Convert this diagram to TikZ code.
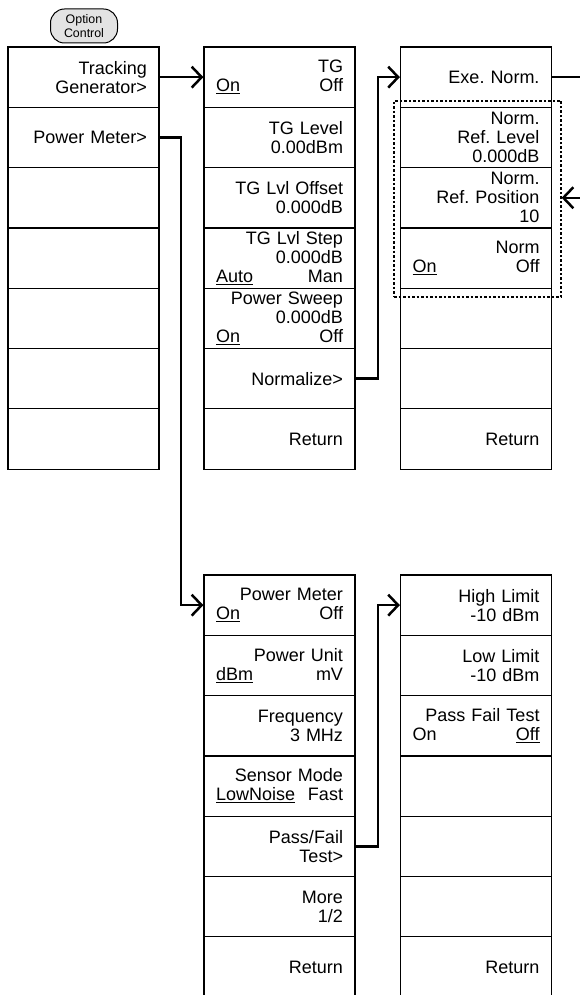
\documentclass[tikz,border=0pt]{standalone}
\usepackage{fontspec}
\usetikzlibrary{arrows.meta}
\newfontfamily\cellfont{Liberation Sans}
\newcommand{\sw}[2]{\makebox[127pt]{#1\hfill #2}}
\frenchspacing
\tikzset{
  cell/.style={draw, line width=1.2pt, minimum width=151pt, minimum height=60.3pt,
    inner sep=0pt, text width=127pt, align=right, font=\cellfont\fontsize{18}{19}\selectfont},
  optbtn/.style={draw, line width=1pt, fill=gray!22, rounded corners=14pt, minimum width=67pt,
    minimum height=34pt, inner sep=0pt, align=center, font=\cellfont\fontsize{12.4}{13.7}\selectfont},
  link/.style={line width=2.5pt, -{Straight Barb[length=10pt,width=21pt]}},
  grp/.style={draw, line width=1.2pt, dash pattern=on 2.5pt off 2pt, minimum width=167pt, minimum height=196pt}
}
\begin{document}
\begin{tikzpicture}[x=1pt, y=-1pt]

\useasboundingbox (0,0) rectangle (580,995);
\clip (0,0) rectangle (580,995);

\node[optbtn] (opt) at (84, 26) {Option\\Control};

\node[cell] (trk) at (83.5, 77.15) {Tracking\\Generator>};
\node[cell] (pm) at (83.5, 137.45) {Power Meter>};
\node[cell] (c1e2) at (83.5, 197.75) {};
\node[cell] (c1e3) at (83.5, 258.05) {};
\node[cell] (c1e4) at (83.5, 318.35) {};
\node[cell] (c1e5) at (83.5, 378.65) {};
\node[cell] (c1e6) at (83.5, 438.95) {};

\node[cell] (tg) at (279.5, 77.15) {TG\\\sw{\underline{On}}{Off}};
\node[cell] (tglev) at (279.5, 137.45) {TG Level\\0.00dBm};
\node[cell] (tgoff) at (279.5, 197.75) {TG Lvl Offset\\0.000dB};
\node[cell] (tgstep) at (279.5, 258.05) {TG Lvl Step\\0.000dB\\\sw{\underline{Auto}}{Man}};
\node[cell] (tgsweep) at (279.5, 318.35) {Power Sweep\\0.000dB\\\sw{\underline{On}}{Off}};
\node[cell] (tgnorm) at (279.5, 378.65) {Normalize>};
\node[cell] (tgret) at (279.5, 438.95) {Return};

\node[cell] (exe) at (476, 77.15) {Exe. Norm.};
\node[cell] (nrl) at (476, 137.45) {Norm.\\Ref. Level\\0.000dB};
\node[cell] (nrp) at (476, 197.75) {Norm.\\Ref. Position\\10};
\node[cell] (nonoff) at (476, 258.05) {Norm\\\sw{\underline{On}}{Off}};
\node[cell] (ne4) at (476, 318.35) {};
\node[cell] (ne5) at (476, 378.65) {};
\node[cell] (nret) at (476, 438.95) {Return};

\node[grp] (ngrp) at (477.5, 199) {};

\node[cell] (pwm) at (279.5, 605.15) {Power Meter\\\sw{\underline{On}}{Off}};
\node[cell] (pwunit) at (279.5, 665.45) {Power Unit\\\sw{\underline{dBm}}{mV}};
\node[cell] (pwfreq) at (279.5, 725.75) {Frequency\\3 MHz};
\node[cell] (pwsens) at (279.5, 786.05) {Sensor Mode\\\sw{\underline{LowNoise}}{Fast}};
\node[cell] (pwpf) at (279.5, 846.35) {Pass/Fail\\Test>};
\node[cell] (pwmore) at (279.5, 906.65) {More\\1/2};
\node[cell] (pwret) at (279.5, 966.95) {Return};

\node[cell] (pfhi) at (476, 605.15) {High Limit\\-10 dBm};
\node[cell] (pflo) at (476, 665.45) {Low Limit\\-10 dBm};
\node[cell] (pftest) at (476, 725.75) {Pass Fail Test\\\sw{On}{\underline{Off}}};
\node[cell] (pfe3) at (476, 786.05) {};
\node[cell] (pfe4) at (476, 846.35) {};
\node[cell] (pfe5) at (476, 906.65) {};
\node[cell] (pfret) at (476, 966.95) {Return};

\coordinate (pmbend) at (181, 0);
\coordinate (nbend) at (378, 0);
\coordinate (loop) at (600, 0);

\draw[link] (trk.east) -- (tg.west);
\draw[link] (pm.east) -- (pm.east -| pmbend) |- (pwm.west);
\draw[link] (tgnorm.east) -- (tgnorm.east -| nbend) |- (exe.west);
\draw[link] (pwpf.east) -- (pwpf.east -| nbend) |- (pfhi.west);
\draw[link] (exe.east) -- (exe.east -| loop) -- (loop |- nrp) -- (ngrp.east |- nrp);

\end{tikzpicture}
\end{document}
